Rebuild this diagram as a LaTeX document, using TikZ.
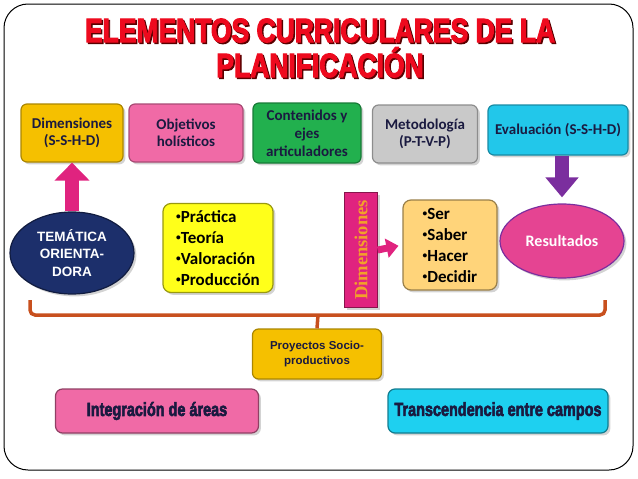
\documentclass[tikz,border=0pt]{standalone}
\usepackage{fontspec}
\setmainfont{Carlito}
\newfontfamily\arialfont{Liberation Sans}
\newfontfamily\heavyfont[BoldFeatures={FakeBold=3.5}]{Liberation Sans}
\newfontfamily\timesfont{Liberation Serif}
\usetikzlibrary{shapes.geometric,arrows.meta,shadows}

\definecolor{titlered}{HTML}{EE0A1E}
\definecolor{boxgold}{HTML}{F5C000}
\definecolor{boxpink}{HTML}{F06AA6}
\definecolor{boxgreen}{HTML}{22B04E}
\definecolor{boxgray}{HTML}{C9C9C9}
\definecolor{boxcyan}{HTML}{22C7EA}
\definecolor{navy}{HTML}{1C2F6B}
\definecolor{inkdark}{HTML}{1A1A40}
\definecolor{bracebrown}{HTML}{C8501E}
\definecolor{magentaA}{HTML}{E0237F}
\definecolor{purpleA}{HTML}{7B2E9E}
\definecolor{peach}{HTML}{FFD47A}
\definecolor{lemon}{HTML}{FFFF1A}
\definecolor{goldtext}{HTML}{F2A02A}
\definecolor{cyanB}{HTML}{1ED0F0}

\newcommand{\bul}{\raisebox{2.5pt}{\scalebox{0.55}{•}}}

\begin{document}
\begin{tikzpicture}[x=1pt,y=-1pt,
  title/.style={font=\heavyfont\bfseries\fontsize{33.5}{36}\selectfont, text=titlered,
    inner sep=0pt, anchor=base},
  titleshade/.style={title, text=red!35!black},
  topbox/.style={draw=#1!70!black, line width=1.2pt, fill=#1, rounded corners=6pt,
    minimum height=58pt, align=center, text=inkdark, inner sep=2pt,
    font=\bfseries\fontsize{15}{17}\selectfont, drop shadow={opacity=0.35}},
  listbox/.style={draw=#1!60!black, line width=1.2pt, fill=#1, rounded corners=8pt, align=left,
    text=black, inner sep=2pt, font=\bfseries\fontsize{17}{21}\selectfont, drop shadow={opacity=0.35}},
  blob/.style={ellipse, draw=#1!60!black, line width=1.2pt, fill=#1, align=center,
    text=white, drop shadow={opacity=0.35}},
  wide/.style={draw=#1!60!black, line width=1.2pt, fill=#1, rounded corners=7pt,
    minimum height=44pt, text=inkdark,
    font=\heavyfont\bfseries\fontsize{19}{21}\selectfont, drop shadow={opacity=0.35}},
  fat/.style={line width=14pt, #1},
]
\useasboundingbox (0,0) rectangle (638,479);

% frame and title
\draw[line width=1pt, rounded corners=24pt] (4,4) rectangle (633,470);
\node[titleshade] (t1s) at (321.5,43.5) {\scalebox{0.79}[1]{ELEMENTOS CURRICULARES DE LA}};
\node[title] (t1) at (320,42) {\scalebox{0.79}[1]{ELEMENTOS CURRICULARES DE LA}};
\node[titleshade] (t2s) at (321.5,78.5) {\scalebox{0.79}[1]{PLANIFICACIÓN}};
\node[title] (t2) at (320,77) {\scalebox{0.79}[1]{PLANIFICACIÓN}};

% top row
\node[topbox=boxgold, minimum width=102pt] (dim) at (72,133) {Dimensiones\\(S-S-H-D)};
\node[topbox=boxpink, minimum width=114pt] (obj) at (186,133) {Objetivos\\holísticos};
\node[topbox=boxgreen, minimum width=108pt, minimum height=60pt,
  font=\bfseries\fontsize{15}{18}\selectfont] (cont) at (307,133) {Contenidos y\\ejes\\articuladores};
\node[topbox=boxgray, minimum width=105pt] (met) at (425,134) {Metodología\\(P-T-V-P)};
\node[topbox=boxcyan, minimum width=140pt, minimum height=50pt] (eval) at (558,130) {Evaluación (S-S-H-D)};

% middle row
\node[blob=navy, minimum width=124pt, minimum height=82pt, inner sep=0pt,
  font=\arialfont\bfseries\fontsize{13.5}{17.5}\selectfont] (tema) at (72,253) {TEMÁTICA\\ORIENTA-\\DORA};
\node[listbox=lemon, minimum width=110pt, minimum height=89pt] (pract) at (218,248)
  {\bul Práctica\\\bul Teoría\\\bul Valoración\\\bul Producción};
\node[draw=magentaA!60!black, fill=magentaA, minimum width=33pt, minimum height=115pt,
  drop shadow={opacity=0.35}] (dimv) at (361,250) {};
\node[rotate=90, text=goldtext, font=\timesfont\bfseries\fontsize{18.5}{20}\selectfont] (dimt) at (dimv) {Dimensiones};
\node[listbox=peach, minimum width=94pt, minimum height=90pt] (ser) at (450,245)
  {\bul Ser\\\bul Saber\\\bul Hacer\\\bul Decidir};
\node[blob=magentaA!85!white, draw=purpleA, minimum width=124pt, minimum height=74pt,
  font=\bfseries\fontsize{16}{18}\selectfont] (res) at (562,241) {Resultados};

% arrows
\draw[fat=magentaA, -{Triangle[width=34pt,length=18pt]}] (tema.north) -- (dim.south);
\draw[fat=purpleA, -{Triangle[width=32pt,length=20pt]}, shorten >=6pt] (res.north |- eval.south) -- (res.north);
\draw[line width=7pt, magentaA, -{Triangle[width=19pt,length=12pt]}, shorten >=4pt] (dimv.east) -- (ser.west);

% brace
\node[topbox=boxgold, minimum width=129pt, minimum height=50pt,
  font=\arialfont\bfseries\fontsize{11.5}{15}\selectfont] (proy) at (317,354) {Proyectos Socio-\\productivos};
\coordinate (bl) at (30,300);
\coordinate (br) at (605,300);
\coordinate (bm) at (318,315);
\draw[bracebrown, line width=3.5pt, rounded corners=5pt] (bl) |- (bm) -| (br);
\draw[bracebrown, line width=3.5pt] (bm) -- (proy.north);

% bottom row
\node[wide=boxpink, minimum width=203pt] (integ) at (157,411) {\scalebox{0.76}[1]{Integración de áreas}};
\node[wide=cyanB, minimum width=220pt] (trans) at (498,411) {\scalebox{0.76}[1]{Transcendencia entre campos}};
\end{tikzpicture}
\end{document}
